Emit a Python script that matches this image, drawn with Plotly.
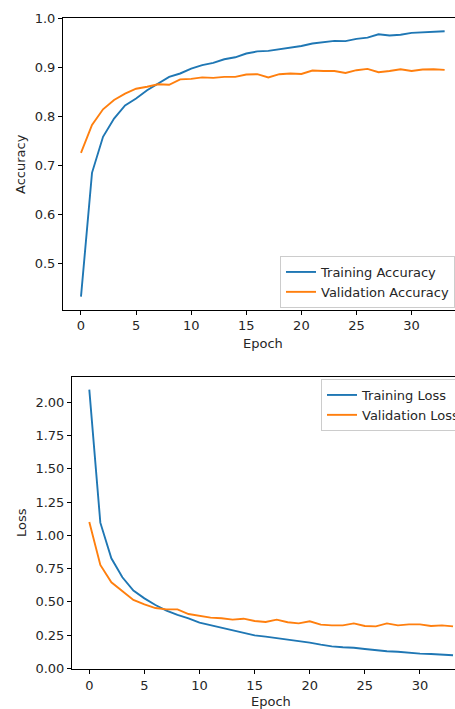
import plotly.graph_objects as go

epochs = list(range(34))
train_acc = [0.433, 0.6855, 0.759, 0.796, 0.823, 0.837, 0.854, 0.8676, 0.881, 0.888,
             0.898, 0.905, 0.9096, 0.917, 0.921, 0.9287, 0.933, 0.934, 0.937, 0.940,
             0.944, 0.949, 0.952, 0.9545, 0.954, 0.9585, 0.961, 0.968, 0.9654, 0.967,
             0.9707, 0.9715, 0.972, 0.974]
val_acc = [0.726, 0.783, 0.815, 0.834, 0.847, 0.857, 0.861, 0.866, 0.865, 0.876,
           0.877, 0.880, 0.879, 0.881, 0.881, 0.886, 0.8866, 0.880, 0.8866, 0.888,
           0.887, 0.894, 0.893, 0.893, 0.889, 0.8947, 0.8974, 0.8906, 0.893, 0.8967,
           0.893, 0.896, 0.8967, 0.8953]
train_loss = [2.095, 1.095, 0.827, 0.684, 0.584, 0.526, 0.476, 0.433, 0.401, 0.376,
              0.343, 0.323, 0.303, 0.288, 0.268, 0.248, 0.238, 0.228, 0.213, 0.203,
              0.193, 0.178, 0.165, 0.158, 0.155, 0.145, 0.135, 0.128, 0.125, 0.117,
              0.110, 0.107, 0.102, 0.098]
val_loss = [1.100, 0.777, 0.647, 0.581, 0.514, 0.481, 0.453, 0.443, 0.443, 0.408,
            0.396, 0.381, 0.376, 0.366, 0.373, 0.356, 0.348, 0.366, 0.346, 0.338,
            0.353, 0.328, 0.323, 0.323, 0.338, 0.318, 0.315, 0.338, 0.323, 0.330,
            0.330, 0.318, 0.323, 0.315]

acc_ticks = [0.5, 0.6, 0.7, 0.8, 0.9, 1.0]
loss_ticks = [0.0, 0.25, 0.5, 0.75, 1.0, 1.25, 1.5, 1.75, 2.0]
epoch_ticks = [0, 5, 10, 15, 20, 25, 30]

BLUE = "#1f77b4"
ORANGE = "#ff7f0e"
FONT = "DejaVu Sans"
FS = 13
TXT = "#262626"

W, H = 455, 709
L = 63

def py(p):
    return 1 - p / H

def px(p):
    return (p - L) / (W - L)

fig = go.Figure()
fig.add_trace(go.Scatter(x=epochs, y=train_acc, mode="lines", name="Training Accuracy",
                         line=dict(color=BLUE, width=1.9), xaxis="x", yaxis="y", legend="legend"))
fig.add_trace(go.Scatter(x=epochs, y=val_acc, mode="lines", name="Validation Accuracy",
                         line=dict(color=ORANGE, width=1.9), xaxis="x", yaxis="y", legend="legend"))
fig.add_trace(go.Scatter(x=epochs, y=train_loss, mode="lines", name="Training Loss",
                         line=dict(color=BLUE, width=1.9), xaxis="x2", yaxis="y2", legend="legend2"))
fig.add_trace(go.Scatter(x=epochs, y=val_loss, mode="lines", name="Validation Loss",
                         line=dict(color=ORANGE, width=1.9), xaxis="x2", yaxis="y2", legend="legend2"))

axis_common = dict(showgrid=False, zeroline=False, showline=True, linecolor="black", linewidth=1,
                   ticks="outside", ticklen=4, tickwidth=1, tickcolor="black",
                   tickfont=dict(family=FONT, size=FS, color=TXT))

legend_common = dict(font=dict(family=FONT, size=FS, color=TXT), bgcolor="rgba(255,255,255,0.8)",
                     bordercolor="#cccccc", borderwidth=1, xanchor="left", yanchor="top",
                     tracegroupgap=0, itemwidth=30)

fig.update_layout(
    width=W, height=H,
    margin=dict(l=L, r=0, t=0, b=0, autoexpand=False),
    paper_bgcolor="white", plot_bgcolor="white",
    xaxis=dict(axis_common, domain=[0, 1], range=[-1.633, 33.94], tickvals=epoch_ticks,
               anchor="y", mirror=True),
    yaxis=dict(axis_common, domain=[py(309.7), py(18.3)], range=[0.4065, 1.0005],
               tickvals=acc_ticks, ticktext=[f"{v:.1f}" for v in acc_ticks], anchor="x"),
    xaxis2=dict(axis_common, domain=[px(72), 1], range=[-1.57, 33.18], tickvals=epoch_ticks,
                anchor="y2", mirror=True),
    yaxis2=dict(axis_common, domain=[py(669.3), py(377.3)], range=[-0.0075, 2.188],
                tickvals=loss_ticks, ticktext=[f"{v:.2f}" for v in loss_ticks], anchor="x2"),
    legend=dict(legend_common, x=px(280), y=py(256)),
    legend2=dict(legend_common, x=px(321), y=py(379)),
    showlegend=True,
)

ann_font = dict(family=FONT, size=FS, color=TXT)
fig.add_annotation(text="Accuracy", xref="paper", yref="paper", x=px(21), y=py(164),
                   textangle=-90, showarrow=False, font=ann_font, xanchor="center", yanchor="middle")
fig.add_annotation(text="Loss", xref="paper", yref="paper", x=px(21), y=py(523),
                   textangle=-90, showarrow=False, font=ann_font, xanchor="center", yanchor="middle")
fig.add_annotation(text="Epoch", xref="paper", yref="paper", x=px(263), y=py(343),
                   showarrow=False, font=ann_font, xanchor="center", yanchor="middle")
fig.add_annotation(text="Epoch", xref="paper", yref="paper", x=px(271), y=py(701),
                   showarrow=False, font=ann_font, xanchor="center", yanchor="middle")

fig.write_html("out.html", config={"displayModeBar": False},
               post_script="document.body.style.margin='0';document.body.style.overflow='hidden';")
